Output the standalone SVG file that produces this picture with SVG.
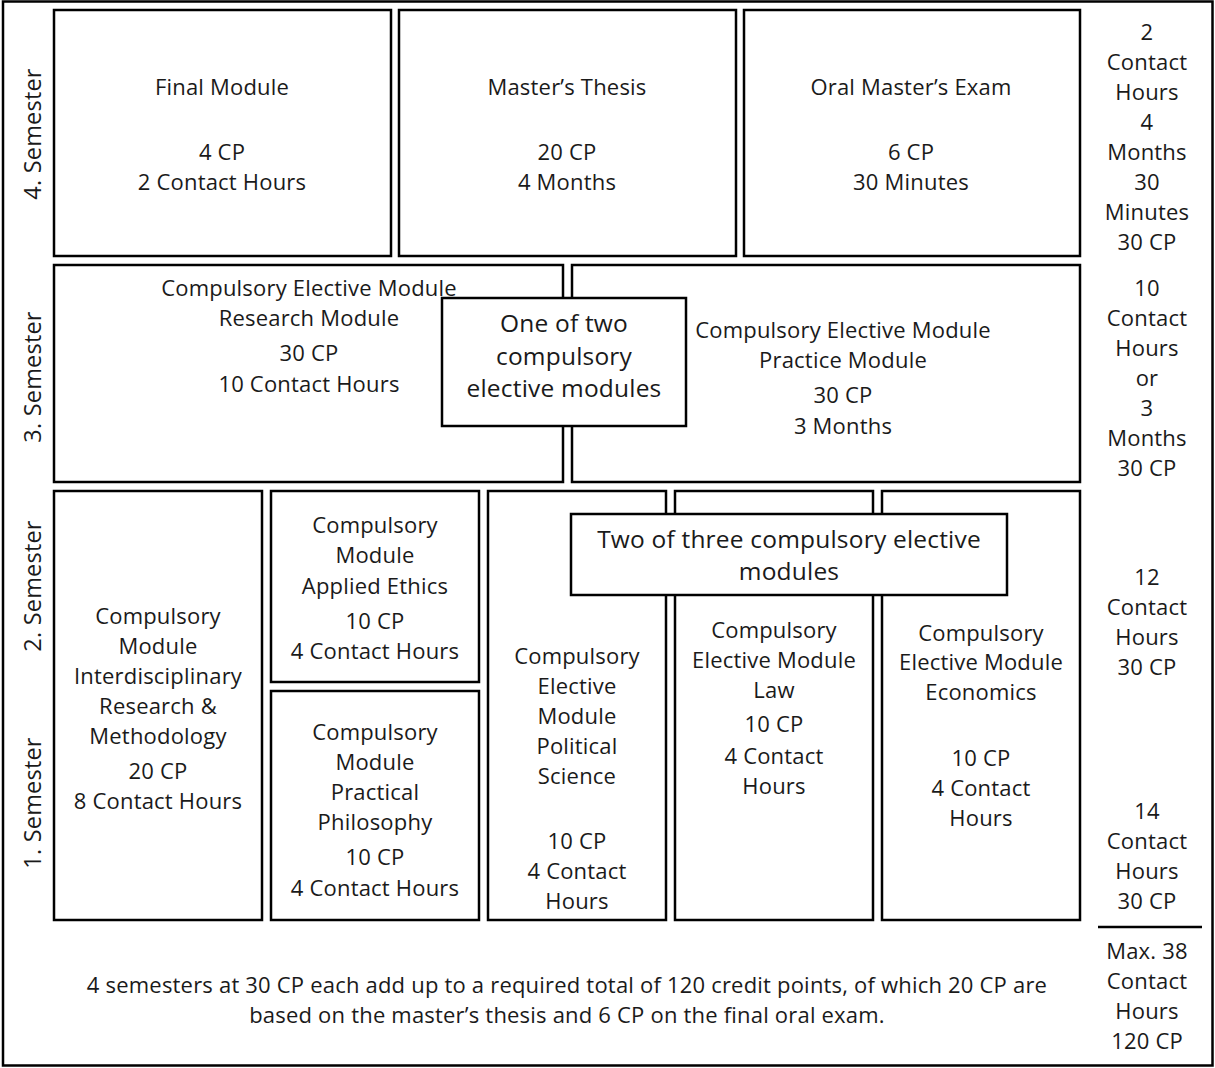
<svg xmlns="http://www.w3.org/2000/svg" width="1215" height="1068" viewBox="0 0 1215 1068">
<style>
.b{fill:#fff;stroke:#000;stroke-width:2.5}
text{font-family:"Open Sans","Liberation Sans",sans-serif;font-size:22px;letter-spacing:0.2px;fill:#1a1a1a;text-anchor:middle}
.big{font-size:24.5px}
.sem{font-size:23.5px}
</style>
<rect x="0" y="0" width="1215" height="1068" fill="#fff"/>
<rect x="3" y="1.5" width="1209.5" height="1064" fill="none" stroke="#000" stroke-width="2.5"/>

<g id="sem-labels">
<text class="sem" transform="translate(41,134) rotate(-90)">4. Semester</text>
<text class="sem" transform="translate(41,377) rotate(-90)">3. Semester</text>
<text class="sem" transform="translate(41,586) rotate(-90)">2. Semester</text>
<text class="sem" transform="translate(41,803) rotate(-90)">1. Semester</text>
</g>

<g id="final-module">
<rect class="b" x="54" y="10" width="337" height="246"/>
<text x="222" y="95">Final Module</text>
<text x="222" y="160">4 CP</text>
<text x="222" y="190">2 Contact Hours</text>
</g>
<g id="masters-thesis">
<rect class="b" x="399" y="10" width="337" height="246"/>
<text x="567" y="95">Master’s Thesis</text>
<text x="567" y="160">20 CP</text>
<text x="567" y="190">4 Months</text>
</g>
<g id="oral-exam">
<rect class="b" x="744" y="10" width="336" height="246"/>
<text x="911" y="95">Oral Master’s Exam</text>
<text x="911" y="160">6 CP</text>
<text x="911" y="190">30 Minutes</text>
</g>

<g id="research-module">
<rect class="b" x="54" y="265" width="509" height="217"/>
<text x="309" y="296">Compulsory Elective Module</text>
<text x="309" y="326">Research Module</text>
<text x="309" y="361">30 CP</text>
<text x="309" y="392">10 Contact Hours</text>
</g>
<g id="practice-module">
<rect class="b" x="572" y="265" width="508" height="217"/>
<text x="843" y="338">Compulsory Elective Module</text>
<text x="843" y="368">Practice Module</text>
<text x="843" y="403">30 CP</text>
<text x="843" y="434">3 Months</text>
</g>
<g id="one-of-two">
<rect class="b" x="442" y="298" width="244" height="128"/>
<text class="big" x="564" y="332">One of two</text>
<text class="big" x="564" y="365">compulsory</text>
<text class="big" x="564" y="397">elective modules</text>
</g>

<g id="interdisciplinary">
<rect class="b" x="54" y="491" width="208" height="429"/>
<text x="158" y="624">Compulsory</text>
<text x="158" y="654">Module</text>
<text x="158" y="684">Interdisciplinary</text>
<text x="158" y="714">Research &amp;</text>
<text x="158" y="744">Methodology</text>
<text x="158" y="779">20 CP</text>
<text x="158" y="809">8 Contact Hours</text>
</g>
<g id="applied-ethics">
<rect class="b" x="271" y="491" width="208" height="191"/>
<text x="375" y="533">Compulsory</text>
<text x="375" y="563">Module</text>
<text x="375" y="594">Applied Ethics</text>
<text x="375" y="629">10 CP</text>
<text x="375" y="659">4 Contact Hours</text>
</g>
<g id="practical-philosophy">
<rect class="b" x="271" y="691" width="208" height="229"/>
<text x="375" y="740">Compulsory</text>
<text x="375" y="770">Module</text>
<text x="375" y="800">Practical</text>
<text x="375" y="830">Philosophy</text>
<text x="375" y="865">10 CP</text>
<text x="375" y="896">4 Contact Hours</text>
</g>
<g id="political-science">
<rect class="b" x="488" y="491" width="178" height="429"/>
<text x="577" y="664">Compulsory</text>
<text x="577" y="694">Elective</text>
<text x="577" y="724">Module</text>
<text x="577" y="754">Political</text>
<text x="577" y="784">Science</text>
<text x="577" y="849">10 CP</text>
<text x="577" y="879">4 Contact</text>
<text x="577" y="909">Hours</text>
</g>
<g id="law">
<rect class="b" x="675" y="491" width="198" height="429"/>
<text x="774" y="638">Compulsory</text>
<text x="774" y="668">Elective Module</text>
<text x="774" y="698">Law</text>
<text x="774" y="732">10 CP</text>
<text x="774" y="764">4 Contact</text>
<text x="774" y="794">Hours</text>
</g>
<g id="economics">
<rect class="b" x="882" y="491" width="198" height="429"/>
<text x="981" y="641">Compulsory</text>
<text x="981" y="670">Elective Module</text>
<text x="981" y="700">Economics</text>
<text x="981" y="766">10 CP</text>
<text x="981" y="796">4 Contact</text>
<text x="981" y="826">Hours</text>
</g>
<g id="two-of-three">
<rect class="b" x="571" y="514" width="436" height="81"/>
<text class="big" x="789" y="548">Two of three compulsory elective</text>
<text class="big" x="789" y="580">modules</text>
</g>

<g id="totals">
<text x="1147" y="40">2</text>
<text x="1147" y="70">Contact</text>
<text x="1147" y="100">Hours</text>
<text x="1147" y="130">4</text>
<text x="1147" y="160">Months</text>
<text x="1147" y="190">30</text>
<text x="1147" y="220">Minutes</text>
<text x="1147" y="250">30 CP</text>
<text x="1147" y="296">10</text>
<text x="1147" y="326">Contact</text>
<text x="1147" y="356">Hours</text>
<text x="1147" y="386">or</text>
<text x="1147" y="416">3</text>
<text x="1147" y="446">Months</text>
<text x="1147" y="476">30 CP</text>
<text x="1147" y="585">12</text>
<text x="1147" y="615">Contact</text>
<text x="1147" y="645">Hours</text>
<text x="1147" y="675">30 CP</text>
<text x="1147" y="819">14</text>
<text x="1147" y="849">Contact</text>
<text x="1147" y="879">Hours</text>
<text x="1147" y="909">30 CP</text>
<text x="1147" y="959">Max. 38</text>
<text x="1147" y="989">Contact</text>
<text x="1147" y="1019">Hours</text>
<text x="1147" y="1049">120 CP</text>
</g>
<g id="connectors">
<line x1="1098" y1="927" x2="1202" y2="927" stroke="#000" stroke-width="2.5"/>
</g>
<g id="footer">
<text x="567" y="993">4 semesters at 30 CP each add up to a required total of 120 credit points, of which 20 CP are</text>
<text x="567" y="1023">based on the master’s thesis and 6 CP on the final oral exam.</text>
</g>
</svg>
